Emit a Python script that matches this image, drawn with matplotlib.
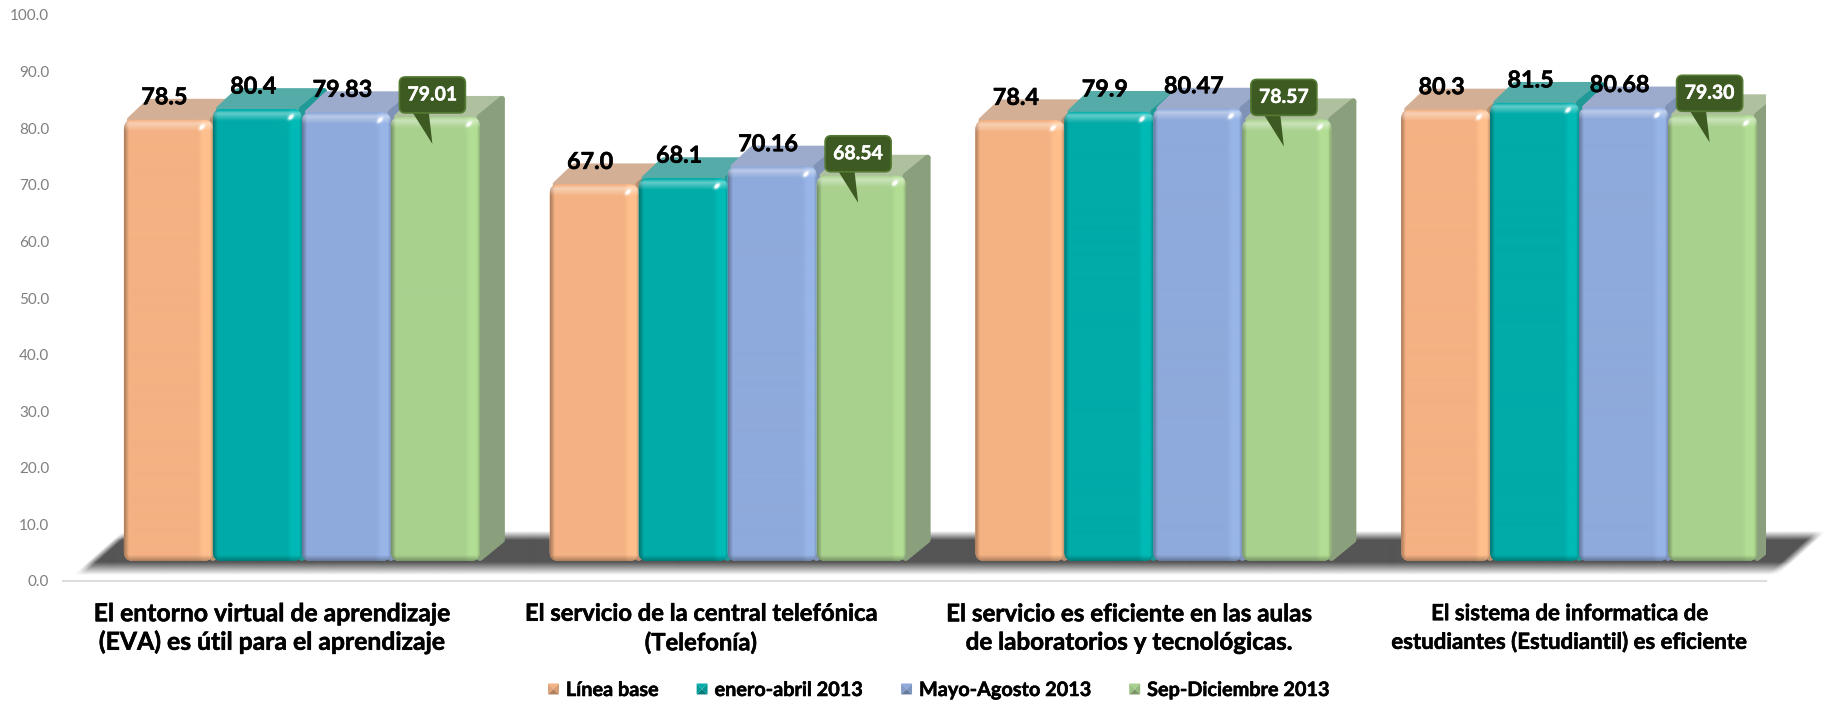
import numpy as np
import matplotlib
matplotlib.use("Agg")
import matplotlib.pyplot as plt
import matplotlib.patheffects as pe
from matplotlib.colors import to_rgb
from matplotlib.legend_handler import HandlerPatch
from matplotlib.patches import FancyBboxPatch, Patch, Polygon

categories = [
    "El entorno virtual de aprendizaje\n(EVA) es útil para el aprendizaje",
    "El servicio de la central telefónica\n(Telefonía)",
    "El servicio es eficiente en las aulas\nde laboratorios y tecnológicas.",
    "El sistema de informatica de\nestudiantes (Estudiantil) es eficiente",
]
series_names = ["Línea base", "enero-abril 2013", "Mayo-Agosto 2013", "Sep-Diciembre 2013"]

linea_base = [78.5, 67.0, 78.4, 80.3]
enero_abril = [80.4, 68.1, 79.9, 81.5]
mayo_agosto = [79.83, 70.16, 80.47, 80.68]
sep_diciembre = [79.01, 68.54, 78.57, 79.30]

value_labels = [
    ["78.5", "67.0", "78.4", "80.3"],
    ["80.4", "68.1", "79.9", "81.5"],
    ["79.83", "70.16", "80.47", "80.68"],
    ["79.01", "68.54", "78.57", "79.30"],
]
y_ticks = [0, 10, 20, 30, 40, 50, 60, 70, 80, 90, 100]

front_colors = ["#F4B183", "#00ABA8", "#8EA9DB", "#A9D18E"]
right_colors = ["#FFBF8C", "#00BAB6", "#98B5E8", "#B2DE94"]
top_colors = ["#D2AF95", "#55ABA8", "#9CABCB", "#AEC09E"]
side_colors = ["#B8906F", "#1F9A97", "#7F92B8", "#8A9F7C"]

# figure size in pixels and where the axis box sits
fig_w, fig_h = 1827, 704
ax_left, ax_right = 63, 1766
ax_top, ax_bottom = 15, 581
unit_x = (ax_right - ax_left) / 4.0
unit_y = (ax_bottom - ax_top) / 100.0

# oblique projection of the 3D columns, all in pixels
bar_w_px = 89
depth_x_px = 25
depth_y_px = 21
shift_x_px = 26
floor_px = 20
value_scale = 0.993

plt.rcParams["font.family"] = ["Lato", "DejaVu Sans"]

heavy = [pe.withStroke(linewidth=0.4, foreground="black")]
heavy_white = [pe.withStroke(linewidth=0.3, foreground="white")]


def front_y(v):
    return floor_px / unit_y + v * value_scale


def shaded_face(nx, ny, base, right):
    # soft bevel: dark left and bottom rim, light right strip and top rim
    base = np.array(to_rgb(base))
    right = np.array(to_rgb(right))
    xx, yy = np.meshgrid(np.arange(nx) + 0.5, np.arange(ny) + 0.5)
    img = np.ones((ny, nx, 3)) * base

    strip = np.clip((xx - (nx - 15)) / 5.0, 0, 1)[..., None]
    img = img * (1 - strip) + right * strip

    rim_l = np.clip(1 - xx / 5.0, 0, 1)[..., None]
    rim_r = np.clip(1 - (nx - xx) / 3.0, 0, 1)[..., None]
    rim_b = np.clip(1 - (ny - yy) / 6.0, 0, 1)[..., None]
    img = img * (1 - 0.32 * rim_l) * (1 - 0.22 * rim_r) * (1 - 0.3 * rim_b)

    rim_t = (np.clip((yy - 1) / 3.0, 0, 1) * np.clip((12 - yy) / 7.0, 0, 1))[..., None]
    img = img + (1 - img) * 0.36 * rim_t

    # slanted white glint near the top right corner
    u = (xx - (nx - 11)) + (yy - 8)
    w = (xx - (nx - 11)) - (yy - 8)
    glint = np.exp(-((u / 2.7) ** 2 + (w / 4.5) ** 2))[..., None]
    img = img + (1 - img) * np.clip(1.5 * glint, 0, 1)
    return np.clip(img, 0, 1)


def shadow_rgba(nx, ny, left_run, right_run, color):
    # floor shadow, soft along every edge of its slanted outline
    xx, yy = np.meshgrid(np.arange(nx) + 0.5, np.arange(ny) + 0.5)
    a = np.clip((yy - 1) / 9.0, 0, 1) * np.clip((ny - yy) / 13.0, 0, 1)
    t = yy / ny
    left_edge = left_run * (1 - t)
    right_edge = nx - right_run * t
    a = a * np.clip((xx - left_edge) / 9.0, 0, 1) * np.clip((right_edge - xx) / 11.0, 0, 1)
    img = np.ones((ny, nx, 4))
    img[..., :3] = to_rgb(color)
    img[..., 3] = a
    return img


class BevelHandler(HandlerPatch):
    # small pyramid-like square used as the legend key
    def create_artists(self, legend, orig_handle, xdescent, ydescent, width, height, fontsize, trans):
        c = np.array(to_rgb(orig_handle.get_facecolor()))
        s = min(width, height)
        x0, y0 = (width - s) / 2 - xdescent, (height - s) / 2 - ydescent
        m = (x0 + s / 2, y0 + s / 2)
        corners = [(x0, y0), (x0 + s, y0), (x0 + s, y0 + s), (x0, y0 + s)]
        shades = [0.72, 0.88, 1.0, 0.92]
        artists = []
        for k in range(4):
            tri = Polygon([corners[k], corners[(k + 1) % 4], m], closed=True,
                          facecolor=np.clip(c * shades[k], 0, 1), edgecolor="none",
                          transform=trans)
            artists.append(tri)
        return artists


fig = plt.figure(figsize=(fig_w / 100, fig_h / 100), dpi=100, facecolor="white")
ax = fig.add_axes([ax_left / fig_w, 1 - ax_bottom / fig_h,
                   (ax_right - ax_left) / fig_w, (ax_bottom - ax_top) / fig_h])

all_series = [linea_base, enero_abril, mayo_agosto, sep_diciembre]
bar_w = bar_w_px / unit_x
dx = depth_x_px / unit_x
dy = depth_y_px / unit_y
aspect = unit_x / unit_y
inset_x = 3 / unit_x
inset_y = 3 / unit_y

first_left = 0 + shift_x_px / unit_x - 2 * bar_w
last_right = 3 + shift_x_px / unit_x + 2 * bar_w

# dark floor shadow under all the columns
shadow_low = front_y(0) - 14 / unit_y
shadow_high = front_y(0) + 31 / unit_y
shadow_x0 = first_left - 51 / unit_x
shadow_x1 = last_right + 70 / unit_x
n_shadow_y = int(round((shadow_high - shadow_low) * unit_y))
n_shadow_x = int(round((shadow_x1 - shadow_x0) * unit_x))
shadow_img = shadow_rgba(n_shadow_x, n_shadow_y, 51, 50, "#555555")
im = ax.imshow(
    shadow_img,
    extent=(shadow_x0, shadow_x1, shadow_low, shadow_high),
    origin="upper",
    aspect="auto",
    zorder=1,
    interpolation="bilinear",
)
im.set_clip_box(fig.bbox)

z = 2
for i in range(len(categories)):
    for j, values in enumerate(all_series):
        v = values[i]
        x0 = i + shift_x_px / unit_x + (j - 2) * bar_w
        x1 = x0 + bar_w
        y0 = front_y(0)
        y1 = front_y(v)

        # top and side are inset a little, the wide round stroke gives soft corners
        top = Polygon(
            [(x0 + 2 * inset_x, y1), (x1, y1), (x1 + dx - inset_x, y1 + dy - inset_y),
             (x0 + dx, y1 + dy - inset_y)],
            closed=True, facecolor=top_colors[j], edgecolor=top_colors[j],
            linewidth=4.3, joinstyle="round", zorder=z,
        )
        side = Polygon(
            [(x1, y0 + inset_y), (x1 + dx - inset_x, y0 + dy), (x1 + dx - inset_x, y1 + dy - inset_y),
             (x1, y1)],
            closed=True, facecolor=side_colors[j], edgecolor=side_colors[j],
            linewidth=4.3, joinstyle="round", zorder=z,
        )
        ax.add_patch(top)
        ax.add_patch(side)

        face = FancyBboxPatch(
            (x0, y0), bar_w, y1 - y0,
            boxstyle="round,pad=0,rounding_size=%f" % (9 / unit_x),
            mutation_aspect=aspect, facecolor=front_colors[j], edgecolor="none",
            zorder=z + 1,
        )
        ax.add_patch(face)
        img = shaded_face(bar_w_px, int(round((y1 - y0) * unit_y)), front_colors[j], right_colors[j])
        face_im = ax.imshow(img, extent=(x0, x1, y0, y1), origin="upper", aspect="auto",
                            zorder=z + 1, interpolation="bilinear")
        face_im.set_clip_path(face)
        z += 2

# value labels go on top of every column
for i in range(len(categories)):
    for j, values in enumerate(all_series):
        v = values[i]
        x0 = i + shift_x_px / unit_x + (j - 2) * bar_w
        xc = x0 + bar_w / 2
        y1 = front_y(v)
        if j < 3:
            ax.text(xc - 4 / unit_x, y1 + 22 / unit_y, value_labels[j][i], ha="center", va="center",
                    fontsize=16.8, fontweight="bold", color="black", zorder=z + 5,
                    path_effects=heavy)
        else:
            # callout for the latest period
            bx = xc - 3 / unit_x
            by = y1 + 22 / unit_y
            bw = 66 / unit_x
            bh = 36 / unit_y
            pointer = Polygon(
                [(bx - 22 / unit_x, by - 14 / unit_y), (bx - 4 / unit_x, by - 14 / unit_y),
                 (bx + 0 / unit_x, y1 - 27 / unit_y)],
                closed=True, facecolor="#3D5A22", edgecolor="none", zorder=z + 4,
            )
            box = FancyBboxPatch(
                (bx - bw / 2, by - bh / 2), bw, bh,
                boxstyle="round,pad=0,rounding_size=%f" % (6 / unit_x),
                mutation_aspect=aspect, facecolor="#3D5A22", edgecolor="#557A33",
                linewidth=1.2, zorder=z + 4,
            )
            ax.add_patch(pointer)
            ax.add_patch(box)
            ax.text(bx, by, value_labels[j][i], ha="center", va="center", fontsize=14,
                    fontweight="bold", color="white", zorder=z + 5, path_effects=heavy_white)

ax.set_xlim(-0.5, 3.5)
ax.set_ylim(0, 100)
ax.set_xticks(range(len(categories)))
ax.set_xticklabels([])
ax.set_yticks(y_ticks)
ax.set_yticklabels(["%.1f" % t for t in y_ticks], fontsize=11, color="#7F7F7F")
ax.tick_params(axis="y", length=0, pad=10)
ax.tick_params(axis="x", length=0)
for name in ["top", "right", "left"]:
    ax.spines[name].set_visible(False)
ax.spines["bottom"].set_color("#DDDDDD")
ax.spines["bottom"].set_linewidth(1.5)
ax.set_facecolor("none")

# category labels are placed by hand, the last one sits a bit to the right and runs smaller
label_shift = [-4, -1, 1, 17]
label_size = [17.8, 17.1, 17.4, 16.0]
for i, label in enumerate(categories):
    ax.annotate(label, xy=(i, 0), xytext=(label_shift[i], -47), textcoords="offset pixels",
                ha="center", va="center", fontsize=label_size[i], fontweight="bold", color="black",
                linespacing=31.0 / (label_size[i] * 1.39), annotation_clip=False, path_effects=heavy)

handles = [Patch(facecolor=c, label=n) for c, n in zip(front_colors, series_names)]
leg = ax.legend(
    handles=handles,
    handler_map={Patch: BevelHandler()},
    loc="center",
    bbox_to_anchor=(939 / fig_w, 14 / fig_h),
    bbox_transform=fig.transFigure,
    ncol=4,
    frameon=False,
    handlelength=0.55,
    handleheight=0.55,
    handletextpad=0.35,
    columnspacing=1.9,
    prop={"weight": "bold", "size": 14.3},
)
for t in leg.get_texts():
    t.set_path_effects(heavy)

fig.savefig("out.png", dpi=100)
